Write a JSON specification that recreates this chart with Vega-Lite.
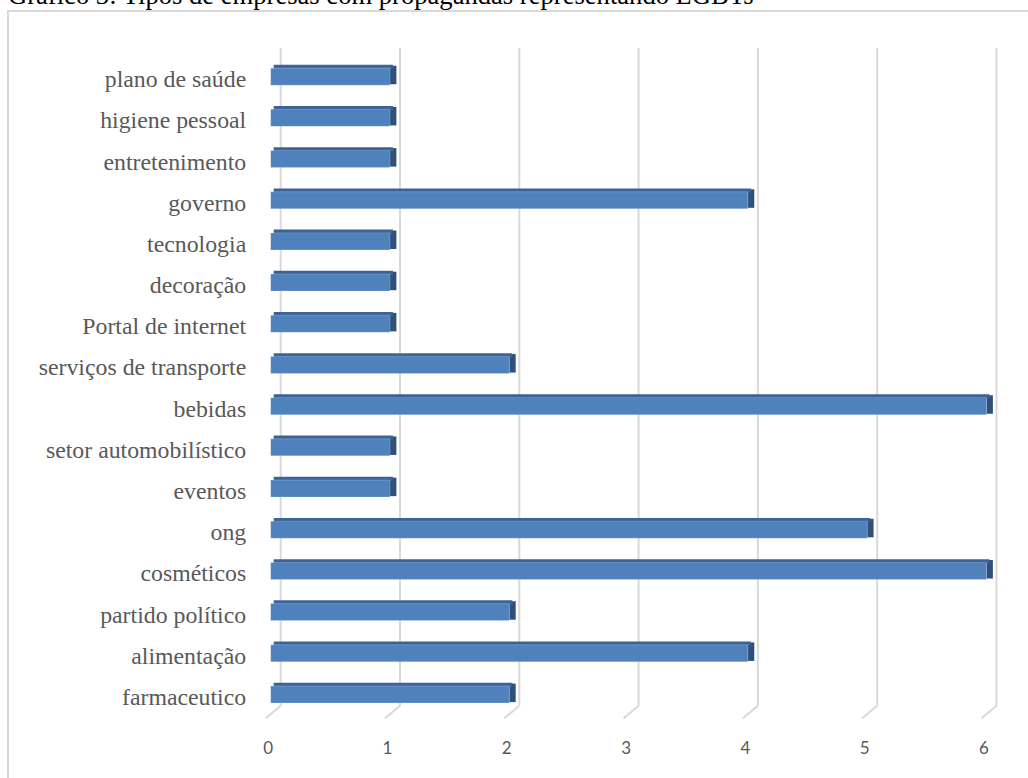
{
  "$schema": "https://vega.github.io/schema/vega-lite/v6.json",
  "width": 1020,
  "height": 767,
  "autosize": {"type": "none"},
  "padding": {"left": 8, "top": 11, "right": 0, "bottom": 0},
  "background": "#ffffff",
  "title": {
    "text": "Gráfico 3: Tipos de empresas com propagandas representando LGBTs",
    "anchor": "start",
    "frame": "group",
    "offset": -20,
    "baseline": "alphabetic",
    "font": "Liberation Serif",
    "fontSize": 26.6,
    "fontWeight": "normal",
    "color": "#000000"
  },
  "config": {
    "view": {"stroke": "#d9d9d9", "strokeWidth": 2, "strokeDash": [1020, 1787, 767]}
  },
  "datasets": {
    "bars": [
      {"cat": "plano de saúde", "v": 1},
      {"cat": "higiene pessoal", "v": 1},
      {"cat": "entretenimento", "v": 1},
      {"cat": "governo", "v": 4},
      {"cat": "tecnologia", "v": 1},
      {"cat": "decoração", "v": 1},
      {"cat": "Portal de internet", "v": 1},
      {"cat": "serviços de transporte\u00a0", "v": 2},
      {"cat": "bebidas", "v": 6},
      {"cat": "setor automobilístico", "v": 1},
      {"cat": "eventos", "v": 1},
      {"cat": "ong", "v": 5},
      {"cat": "cosméticos", "v": 6},
      {"cat": "partido político", "v": 2},
      {"cat": "alimentação", "v": 4},
      {"cat": "farmaceutico", "v": 2}
    ],
    "ticks": [{"t": 0}, {"t": 1}, {"t": 2}, {"t": 3}, {"t": 4}, {"t": 5}, {"t": 6}]
  },
  "layer": [
    {
      "data": {"name": "ticks"},
      "mark": {"type": "rule", "color": "#d9d9d9", "strokeWidth": 2, "xOffset": 10, "yOffset": -28.65, "y2Offset": 11.2},
      "encoding": {
        "x": {"field": "t", "type": "quantitative"},
        "y": {"datum": "plano de saúde"},
        "y2": {"datum": "farmaceutico"}
      }
    },
    {
      "data": {"name": "ticks"},
      "mark": {"type": "rule", "color": "#d9d9d9", "strokeWidth": 2, "xOffset": 10, "x2Offset": -5, "yOffset": 11.2, "y2Offset": 23.8},
      "encoding": {
        "x": {"field": "t", "type": "quantitative"},
        "x2": {"field": "t"},
        "y": {"datum": "farmaceutico"},
        "y2": {"datum": "farmaceutico"}
      }
    },
    {
      "data": {"name": "bars"},
      "mark": {"type": "bar", "color": "#2e5079", "height": 18.5, "yOffset": -1.65, "x2Offset": 6.4},
      "encoding": {
        "x": {"field": "v", "type": "quantitative"},
        "x2": {"field": "v"},
        "y": {"field": "cat", "type": "nominal"}
      }
    },
    {
      "data": {"name": "bars"},
      "mark": {"type": "bar", "color": "#3b6397", "height": 4, "yOffset": -9.8, "xOffset": 3, "x2Offset": 3},
      "encoding": {
        "x": {"field": "v", "type": "quantitative"},
        "x2": {"datum": 0},
        "y": {"field": "cat", "type": "nominal"}
      }
    },
    {
      "data": {"name": "bars"},
      "mark": {"type": "bar", "color": "#4f81bd", "stroke": "#ffffff", "strokeOpacity": 0.25, "strokeWidth": 0.8},
      "encoding": {
        "x": {
          "field": "v",
          "type": "quantitative",
          "scale": {"domain": [-2.202, 6.348], "nice": false, "zero": false},
          "axis": {
            "title": null,
            "values": [0, 1, 2, 3, 4, 5, 6],
            "format": "d",
            "grid": false,
            "domain": false,
            "ticks": false,
            "tickSize": 0,
            "offset": -30,
            "labelPadding": 0,
            "labelOffset": -3,
            "labelBaseline": "middle",
            "labelFont": "Lato",
            "labelFontSize": 17,
            "labelColor": "#595959",
            "labelFlush": false
          }
        },
        "x2": {"datum": 0},
        "y": {
          "field": "cat",
          "type": "nominal",
          "sort": null,
          "scale": {
            "domain": ["plano de saúde", "higiene pessoal", "entretenimento", "governo", "tecnologia", "decoração", "Portal de internet", "serviços de transporte\u00a0", "bebidas", "setor automobilístico", "eventos", "ong", "cosméticos", "partido político", "alimentação", "farmaceutico"],
            "range": [57.15, 692.0],
            "paddingInner": 0.5873,
            "paddingOuter": 0
          },
          "axis": {
            "title": null,
            "grid": false,
            "domain": false,
            "ticks": false,
            "tickSize": 0,
            "offset": -237.7,
            "labelPadding": 0,
            "labelOffset": 10.5,
            "labelBaseline": "alphabetic",
            "labelAlign": "right",
            "labelLimit": 0,
            "labelFont": "Liberation Serif",
            "labelFontSize": 23.8,
            "labelColor": "#595959"
          }
        }
      }
    }
  ]
}
